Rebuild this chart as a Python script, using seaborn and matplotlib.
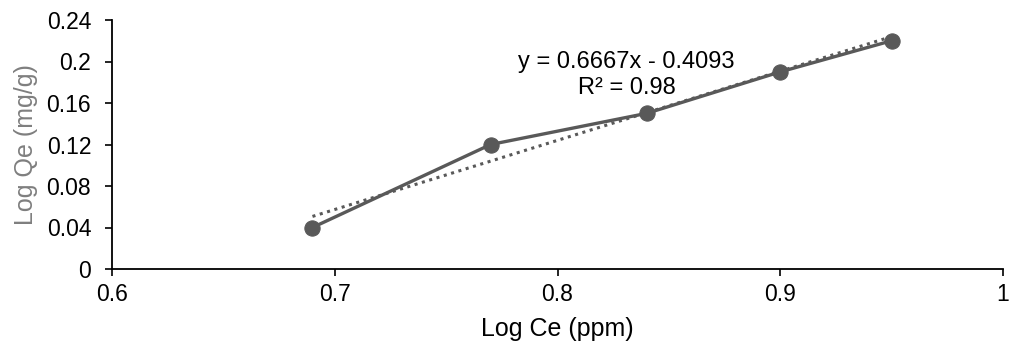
import matplotlib
matplotlib.use("Agg")
import matplotlib.pyplot as plt
import seaborn as sns
import pandas as pd

log_ce = [0.69, 0.77, 0.84, 0.90, 0.95]
log_qe = [0.04, 0.12, 0.15, 0.19, 0.22]
x_ticks = [0.6, 0.7, 0.8, 0.9, 1.0]
x_tick_labels = ["0.6", "0.7", "0.8", "0.9", "1"]
y_ticks = [0, 0.04, 0.08, 0.12, 0.16, 0.2, 0.24]
y_tick_labels = ["0", "0.04", "0.08", "0.12", "0.16", "0.2", "0.24"]
equation_text = "y = 0.6667x - 0.4093\nR² = 0.98"

sns.set_theme(style="white")
plt.rcParams['font.family'] = ['Liberation Sans', 'DejaVu Sans']

df = pd.DataFrame({"x": log_ce, "y": log_qe})

fig = plt.figure(figsize=(10.1, 3.54), dpi=100)
ax = fig.add_axes([112/1010, 1-269/354, (1003-112)/1010, (269-20)/354])

color = "#595959"
sns.regplot(data=df, x="x", y="y", ax=ax, ci=None, scatter=False,
            line_kws=dict(color=color, linestyle=(0, (1, 1.5)), linewidth=2.2))
sns.lineplot(data=df, x="x", y="y", ax=ax, color=color, linewidth=2.4,
             marker="o", markersize=11, markeredgecolor=color)

ax.set_xlim(0.6, 1.0)
ax.set_ylim(0, 0.24)
ax.set_xticks(x_ticks)
ax.set_xticklabels(x_tick_labels)
ax.set_yticks(y_ticks)
ax.set_yticklabels(y_tick_labels)
ax.tick_params(axis="both", direction="out", length=5, width=1.2, color="black",
               labelsize=16.5, labelcolor="black", left=True, bottom=True)
ax.tick_params(axis="y", pad=10)
ax.tick_params(axis="x", pad=5)
for side in ["top", "right"]:
    ax.spines[side].set_visible(False)
for side in ["left", "bottom"]:
    ax.spines[side].set_color("black")
    ax.spines[side].set_linewidth(1.3)

ax.set_xlabel("Log Ce (ppm)", fontsize=18, color="black", labelpad=8)
ax.set_ylabel("Log Qe (mg/g)", fontsize=18, color="#7f7f7f", labelpad=6)

ax.text(0.831, 0.187, equation_text, ha="center", va="center",
        fontsize=17, color="black", linespacing=1.2)

fig.savefig("out.png", dpi=100)
